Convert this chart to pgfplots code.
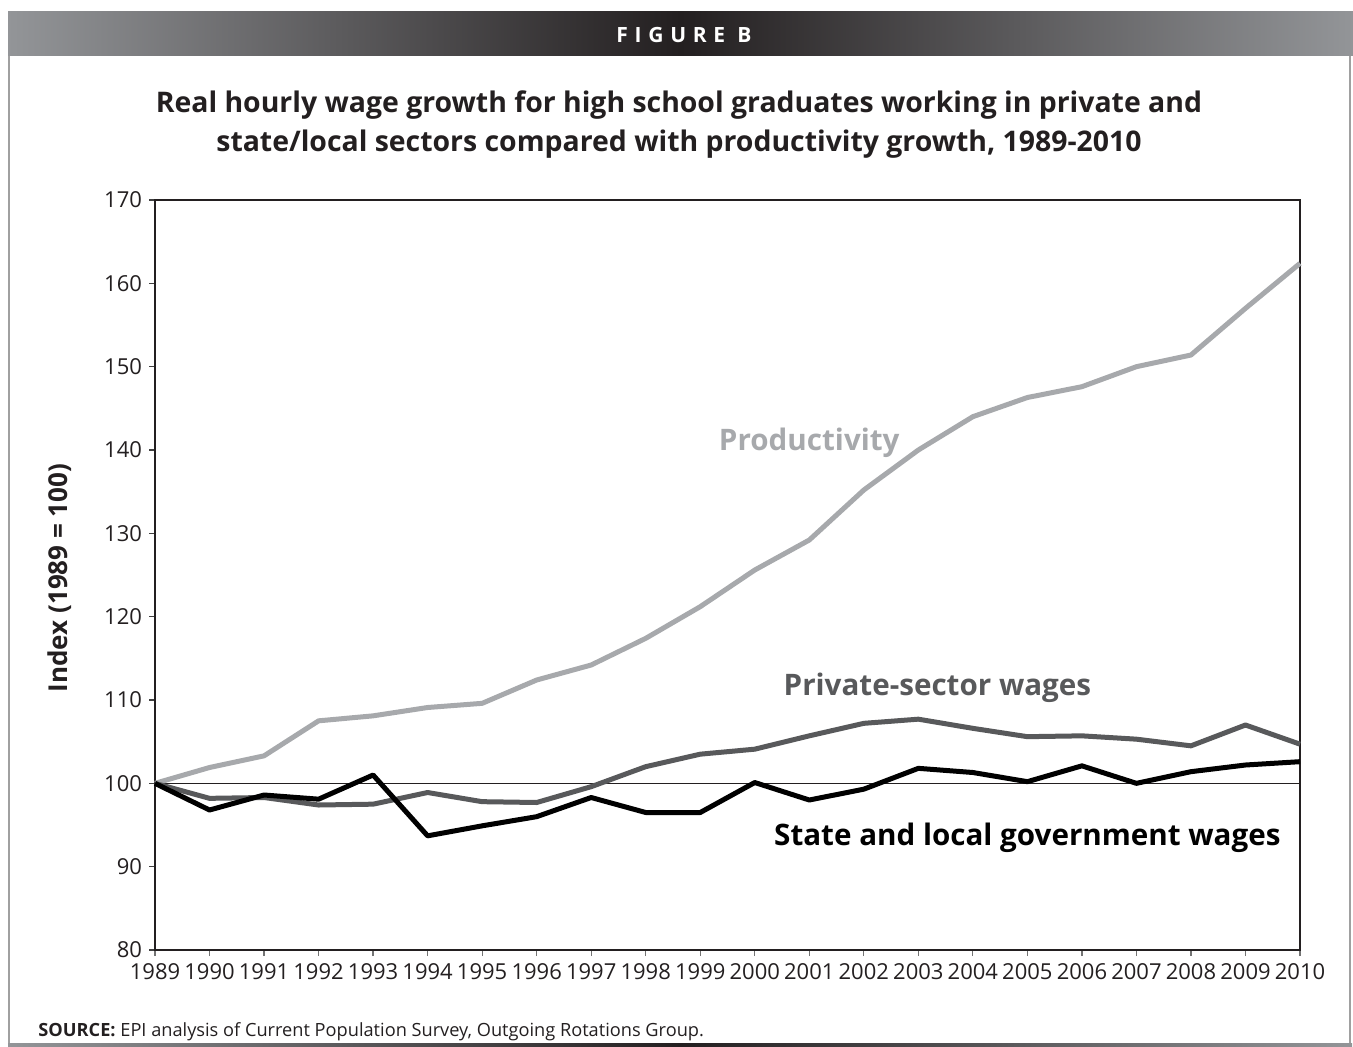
\documentclass[border=0pt]{standalone}
\usepackage{fontspec}
\setmainfont{Open Sans}
\usepackage{pgfplots}
\pgfplotsset{compat=1.18}

\definecolor{prodgray}{HTML}{A7A9AC}
\definecolor{privgray}{HTML}{58595B}
\definecolor{edgegray}{HTML}{939598}
\definecolor{darkhead}{HTML}{231F20}
\definecolor{framegray}{HTML}{A0A0A0}

\begin{document}
\begin{tikzpicture}
% canvas 1353 x 1047 px, 1 px = 0.5pt
\path[use as bounding box] (0,0) rectangle (676.5pt,-523.5pt);

\begin{scope}[x=0.5pt,y=-0.5pt]
  % header bar
  \shade[left color=edgegray, right color=edgegray, middle color=darkhead] (8,12) rectangle (1353,56);
  \node[white, font=\bfseries\fontsize{10.5}{12}\selectfont\addfontfeatures{LetterSpace=32}] at (684,35) {FIGURE B};
  % frame
  \draw[framegray, line width=0.6pt] (9,56) -- (9,1044);
  \draw[framegray, line width=0.6pt] (1350,56) -- (1350,1044);
  \shade[left color=edgegray, right color=edgegray, middle color=darkhead] (8,1043) rectangle (1352,1046);
  % title
  \node[anchor=base, font=\bfseries\fontsize{14.2}{16}\selectfont, text=darkhead] at (679,113)
    {Real hourly wage growth for high school graduates working in private and};
  \node[anchor=base, font=\bfseries\fontsize{14.2}{16}\selectfont, text=darkhead] at (679,152)
    {state/local sectors compared with productivity growth, 1989-2010};
  % source
  \node[anchor=base west, font=\fontsize{9.1}{11}\selectfont, text=darkhead, inner sep=0pt] at (38,1036)
    {\textbf{SOURCE:} EPI analysis of Current Population Survey, Outgoing Rotations Group.};
\end{scope}

\begin{axis}[
    at={(77.5pt,-475pt)}, anchor=south west,
    scale only axis, width=572.5pt, height=375pt,
    xmin=1989, xmax=2010, ymin=80, ymax=170,
    xtick={1989,1990,...,2010},
    ytick={80,90,...,170},
    xtick pos=bottom, ytick pos=left,
    /pgf/number format/1000 sep={},
    /pgf/number format/assume math mode=true,
    tick label style={font=\fontsize{11}{13}\selectfont, text=darkhead},
    tick align=outside, major tick length=3pt,
    tick style={black!75, line width=0.6pt},
    x tick style={black!55},
    axis line style={line width=1.1pt, color=darkhead},
    clip=false,
    ylabel={\textbf{Index (1989 = 100)}},
    ylabel style={at={(axis description cs:-0.083,0.496)}, anchor=center,
      font=\fontsize{13}{15}\selectfont, text=darkhead},
]

% reference line at 100
\addplot[darkhead, line width=0.8pt] coordinates {(1989,100) (2010,100)};

% productivity
\addplot[prodgray, line width=2.5pt, line join=round] coordinates {
  (1989,100.0) (1990,101.9) (1991,103.3) (1992,107.5) (1993,108.1) (1994,109.1)
  (1995,109.6) (1996,112.4) (1997,114.2) (1998,117.4) (1999,121.2) (2000,125.6)
  (2001,129.2) (2002,135.2) (2003,140.0) (2004,144.0) (2005,146.3) (2006,147.6)
  (2007,150.0) (2008,151.4) (2009,157.0) (2010,162.4)
};

% private-sector wages
\addplot[privgray, line width=2.5pt, line join=round] coordinates {
  (1989,100.0) (1990,98.2) (1991,98.3) (1992,97.4) (1993,97.5) (1994,98.9)
  (1995,97.8) (1996,97.7) (1997,99.6) (1998,102.0) (1999,103.5) (2000,104.1)
  (2001,105.7) (2002,107.2) (2003,107.7) (2004,106.6) (2005,105.6) (2006,105.7)
  (2007,105.3) (2008,104.5) (2009,107.0) (2010,104.7)
};

% state and local government wages
\addplot[black, line width=2.5pt, line join=round] coordinates {
  (1989,100.0) (1990,96.8) (1991,98.6) (1992,98.1) (1993,101.0) (1994,93.7)
  (1995,94.9) (1996,96.0) (1997,98.3) (1998,96.5) (1999,96.5) (2000,100.1)
  (2001,98.0) (2002,99.3) (2003,101.8) (2004,101.3) (2005,100.2) (2006,102.1)
  (2007,100.0) (2008,101.4) (2009,102.2) (2010,102.6)
};

\node[anchor=base, text=prodgray, font=\bfseries\fontsize{14.8}{17}\selectfont] at (axis cs:2001.0,139.9) {Productivity};
\node[anchor=base, text=privgray, font=\bfseries\fontsize{14.8}{17}\selectfont] at (axis cs:2003.35,110.6) {Private-sector wages};
\node[anchor=base, text=black, font=\bfseries\fontsize{14.8}{17}\selectfont] at (axis cs:2005.0,92.6) {State and local government wages};
\end{axis}
\end{tikzpicture}
\end{document}
